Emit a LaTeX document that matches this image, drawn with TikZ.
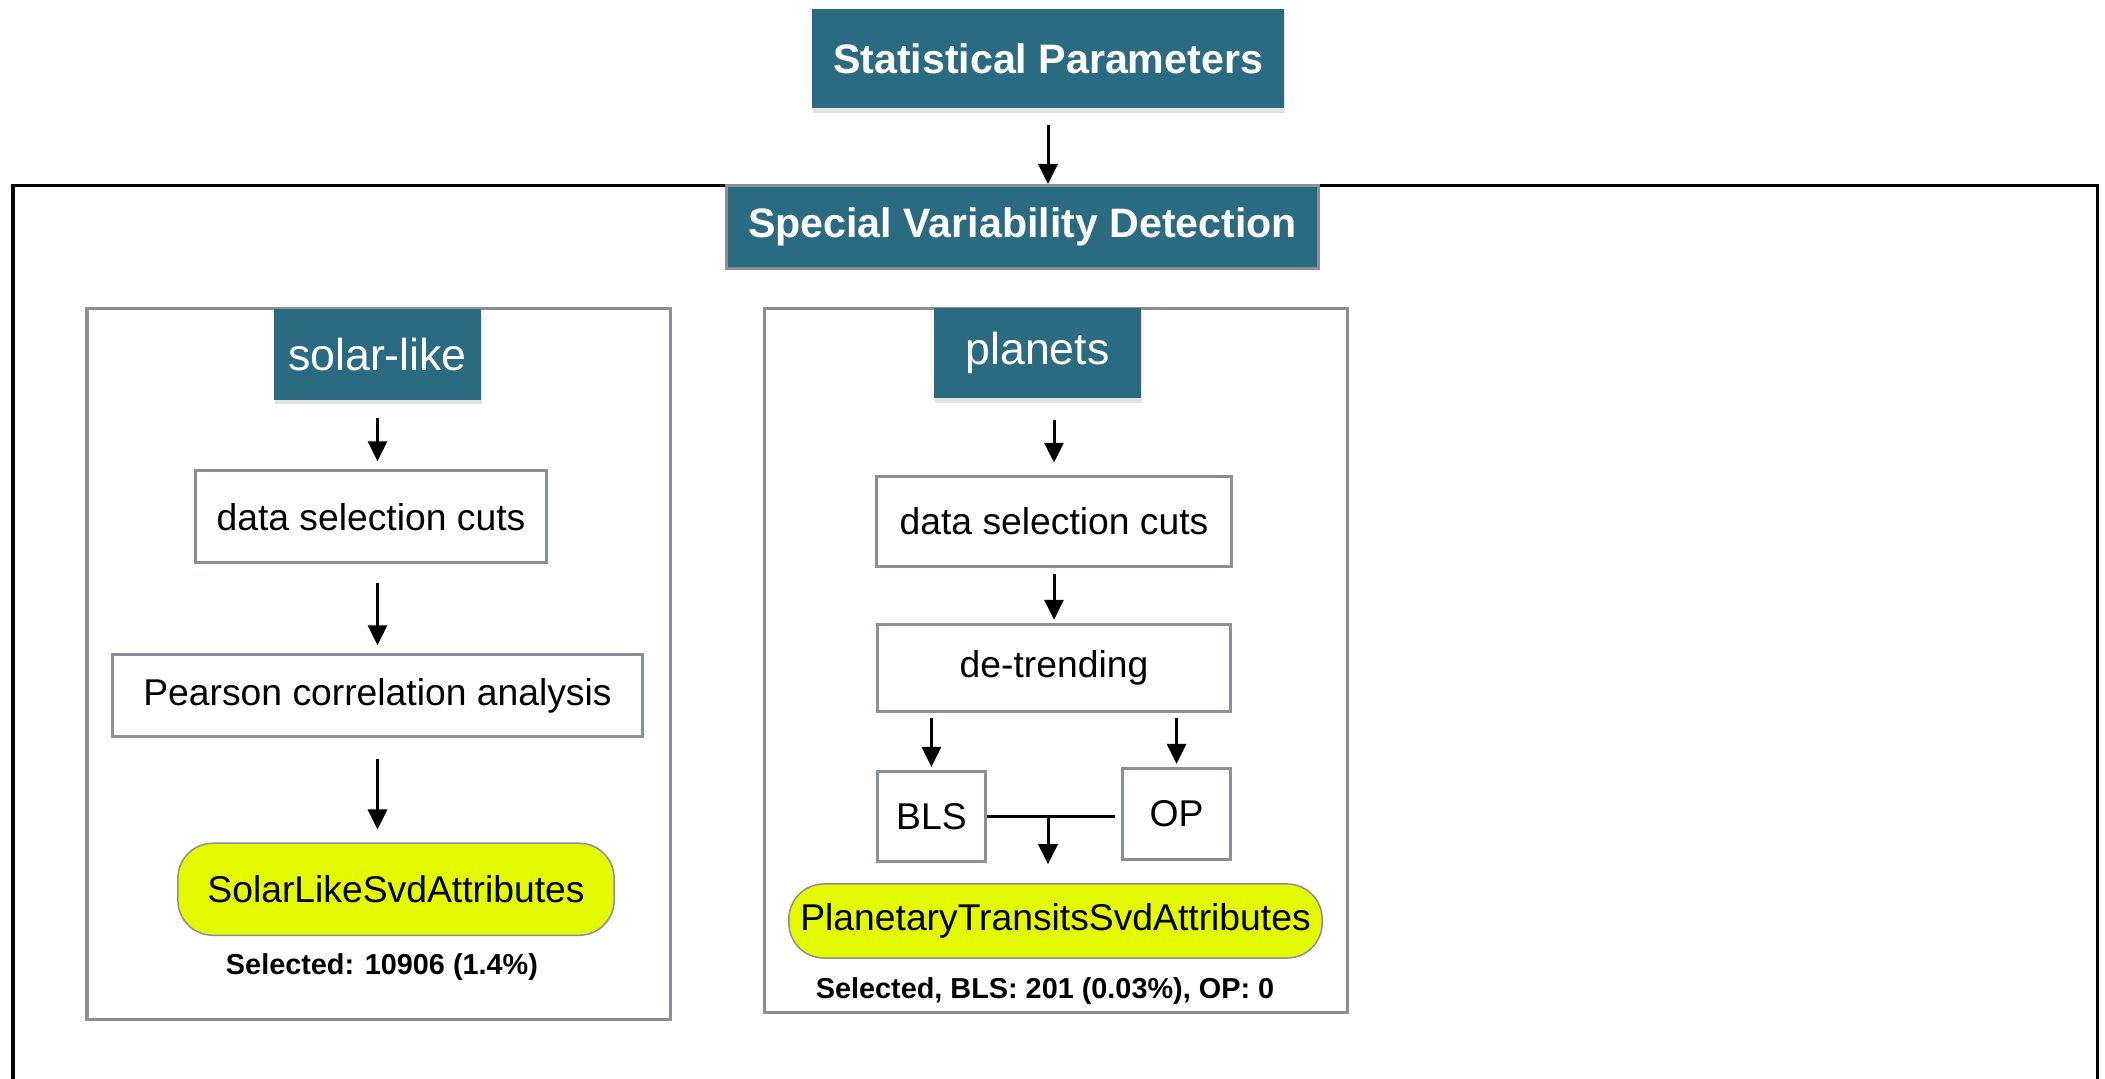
\documentclass[tikz,border=0pt]{standalone}
\usepackage{fontspec}
\setmainfont{Liberation Sans}
\usetikzlibrary{arrows.meta,positioning,shadows}

\definecolor{headteal}{RGB}{43,107,129}
\definecolor{boxgray}{RGB}{140,143,148}
\definecolor{attryellow}{RGB}{228,250,0}

\begin{document}
\begin{tikzpicture}[
  x=0.01cm, y=-0.01cm,
  header/.style={rectangle, fill=headteal, text=white, inner sep=0pt,
    font=\bfseries\fontsize{11.7}{14}\selectfont},
  shadowed/.style={drop shadow={shadow xshift=0.1mm, shadow yshift=-0.45mm, opacity=0.22}},
  tab/.style={header, shadowed, font=\fontsize{12.7}{15}\selectfont,
    minimum width=2.07cm, minimum height=0.9cm},
  block/.style={rectangle, draw=boxgray, line width=0.3mm, fill=white, inner sep=0pt,
    font=\fontsize{10.6}{13}\selectfont},
  attr/.style={block, line width=0.15mm, fill=attryellow, rounded corners=3.5mm},
  panel/.style={draw=boxgray, line width=0.3mm},
  count/.style={font=\bfseries\fontsize{8.2}{10}\selectfont, inner sep=0pt},
  arrow/.style={-{Triangle[length=2mm, width=1.9mm]}, line width=0.3mm,
    shorten <=1.9mm, shorten >=1mm},
  node distance=0.8cm
  ]
  \useasboundingbox (0,0) rectangle (2105,1079);

  % outer frame, runs off the bottom
  \draw[line width=0.3mm] (13,1090) |- (2097,186) -- (2097,1090);
  % the two method panels
  \draw[panel] (87,309) rectangle (670,1019);
  \draw[panel] (764,309) rectangle (1347,1012);

  \node[header, shadowed, minimum width=4.72cm, minimum height=0.99cm] (stat) at (1048,58.5) {Statistical Parameters};
  \node[header, draw=boxgray, line width=0.3mm, minimum width=5.92cm, minimum height=0.83cm] (svd) at (1022.5,227) {Special Variability Detection};

  % solar-like branch
  \node[tab] (solar) at (377.5,354.5) {solar-like};
  \node[block, below=6.9mm of solar, xshift=-0.65mm, minimum width=3.51cm, minimum height=0.92cm] (cutsL) {data selection cuts};
  \node[block, below=8.9mm of cutsL, xshift=0.65mm, minimum width=5.30cm, minimum height=0.82cm] (pearson) {Pearson correlation analysis};
  \node[attr, below=10.4mm of pearson, xshift=1.85mm, minimum width=4.36cm, minimum height=0.92cm] (solarsvd) {SolarLikeSvdAttributes};
  \node[count] (selL) at (382,967) {Selected: 10906 (1.4\%)};

  % planets branch
  \node[tab] (planets) at (1037.5,353) {planets};
  \node[block, below=7.6mm of planets, xshift=1.65mm, minimum width=3.55cm, minimum height=0.90cm] (cutsR) {data selection cuts};
  \node[block, below=5.5mm of cutsR, minimum width=3.53cm, minimum height=0.87cm] (detrend) {de-trending};
  \node[block, below=5.7mm of detrend.south west, anchor=north west, minimum width=1.08cm, minimum height=0.90cm] (bls) {BLS};
  \node[block, below=5.4mm of detrend.south east, anchor=north east, minimum width=1.08cm, minimum height=0.91cm] (op) {OP};
  \node[attr, minimum width=5.33cm, minimum height=0.74cm] (planetsvd) at (1055.5,921) {PlanetaryTransitsSvdAttributes};
  \node[count] (selR) at (1045,991) {Selected, BLS: 201 (0.03\%), OP: 0};

  \draw[arrow, shorten <=1.6mm, shorten >=0mm] (stat.south) -- (stat.south |- svd.north);
  \draw[arrow, shorten <=1.8mm, shorten >=0.8mm] (solar.south) -- (solar.south |- cutsL.north);
  \draw[arrow, shorten >=0.8mm] (cutsL.south -| solar) -- (pearson.north -| solar);
  \draw[arrow, shorten <=2.1mm, shorten >=1.3mm] (pearson.south -| solar) -- (solarsvd.north -| solar);
  \draw[arrow, shorten <=2.1mm, shorten >=1.2mm] (planets.south -| cutsR) -- (cutsR.north);
  \draw[arrow, shorten <=0.6mm, shorten >=0.3mm] (cutsR.south) -- (cutsR.south |- detrend.north);
  \draw[arrow, shorten <=0.5mm, shorten >=0.3mm] (detrend.south -| bls) -- (bls.north);
  \draw[arrow, shorten <=0.5mm, shorten >=0.3mm] (detrend.south -| op) -- (op.north);
  \draw[line width=0.3mm, shorten >=0.6mm] (bls.east) -- (bls.east -| op.west);
  \draw[arrow, shorten <=0mm, shorten >=1.9mm] ([xshift=-0.75mm]bls.east -| planetsvd) -- ([xshift=-0.75mm]planetsvd.north);
\end{tikzpicture}
\end{document}
